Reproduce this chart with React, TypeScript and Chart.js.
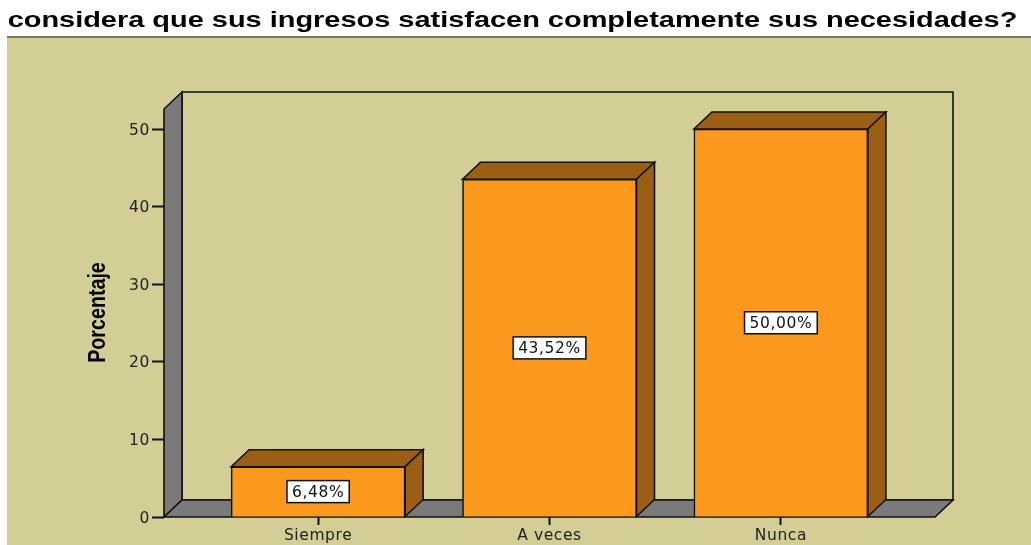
import React, { useEffect, useRef } from "react";
import { Chart, registerables } from "chart.js";

Chart.register(...registerables);

const chartTitle = "considera que sus ingresos satisfacen completamente sus necesidades?";
const yAxisTitle = "Porcentaje";
const categories = ["Siempre", "A veces", "Nunca"];
const percentages = [6.48, 43.52, 50.0];

const BG = "#D3CD96";
const BAR = "#FB981E";
const BAR_DARK = "#9A5F14";
const WALL = "#7A7A7A";
const INK = "#111111";
const DX = 18;
const DY = 17;
const BODY_SPACING = "0.6px";

function poly(ctx: CanvasRenderingContext2D, pts: number[][], fill: string | null, lw = 1.6) {
  ctx.beginPath();
  pts.forEach((p, i) => (i ? ctx.lineTo(p[0], p[1]) : ctx.moveTo(p[0], p[1])));
  ctx.closePath();
  if (fill) {
    ctx.fillStyle = fill;
    ctx.fill();
  }
  ctx.strokeStyle = INK;
  ctx.lineWidth = lw;
  ctx.lineJoin = "miter";
  ctx.stroke();
}

const scenePlugin = {
  id: "scene",
  beforeDraw(chart: any) {
    const c = chart.ctx;
    const { width, height } = chart;
    if (!chart.$wrapped) {
      chart.$wrapped = true;
      // the reference's title is a horizontally stretched font
      const tb = chart.titleBlock;
      const origTitle = tb.draw.bind(tb);
      tb.draw = () => {
        const cx = (tb.left + tb.right) / 2;
        c.save();
        c.letterSpacing = "0px";
        c.translate(512.5, 0);
        c.scale(1.315, 1);
        c.translate(-cx, 0);
        origTitle();
        c.restore();
      };
      // and its y axis title a condensed one
      const ys = chart.scales.y;
      const origAxisTitle = ys.drawTitle.bind(ys);
      ys.drawTitle = (...args: any[]) => {
        const cy = (ys.top + ys.bottom) / 2;
        c.save();
        c.letterSpacing = "0px";
        c.translate(0, 312.5);
        c.scale(1, 0.82);
        c.translate(0, -cy);
        origAxisTitle(...args);
        c.restore();
      };
    }
    c.save();
    c.fillStyle = BG;
    c.fillRect(7, 36, width - 7, height - 36);
    c.fillStyle = "#77775F";
    c.fillRect(7, 36, width - 7, 2);
    c.restore();
    c.letterSpacing = BODY_SPACING;
  },
  beforeDatasetsDraw(chart: any) {
    const c = chart.ctx;
    const { left, right, top, bottom } = chart.chartArea;
    const wallTop = top - 20;
    c.save();
    // back wall
    poly(c, [[left + DX, wallTop - DY], [right + DX, wallTop - DY], [right + DX, bottom - DY], [left + DX, bottom - DY]], null);
    // left wall
    poly(c, [[left, wallTop], [left + DX, wallTop - DY], [left + DX, bottom - DY], [left, bottom]], WALL);
    // floor
    poly(c, [[left, bottom], [left + DX, bottom - DY], [right + DX, bottom - DY], [right, bottom]], WALL);
    // bar depth faces
    chart.getDatasetMeta(0).data.forEach((bar: any) => {
      const { x, y, base, width: w } = bar.getProps(["x", "y", "base", "width"], true);
      const l = x - w / 2;
      const r = x + w / 2;
      poly(c, [[l, y], [l + DX, y - DY], [r + DX, y - DY], [r, y]], BAR_DARK);
      poly(c, [[r, y], [r + DX, y - DY], [r + DX, base - DY], [r, base]], BAR_DARK);
    });
    c.restore();
  },
  afterDatasetsDraw(chart: any) {
    const c = chart.ctx;
    c.save();
    c.font = "15.5px 'DejaVu Sans'";
    c.textAlign = "center";
    c.textBaseline = "middle";
    chart.getDatasetMeta(0).data.forEach((bar: any, i: number) => {
      const { x, y, base } = bar.getProps(["x", "y", "base"], true);
      const cy = (y + base) / 2;
      const text = percentages[i].toFixed(2).replace(".", ",") + "%";
      const w = c.measureText(text).width + 10;
      const h = 22;
      c.fillStyle = "#FFFFFF";
      c.fillRect(x - w / 2, cy - h / 2, w, h);
      c.strokeStyle = INK;
      c.lineWidth = 1.5;
      c.strokeRect(x - w / 2, cy - h / 2, w, h);
      c.fillStyle = INK;
      c.fillText(text, x, cy + 1);
    });
    c.restore();
  },
};

export default function App() {
  const ref = useRef<HTMLCanvasElement>(null);
  useEffect(() => {
    const chart = new Chart(ref.current!, {
      type: "bar",
      plugins: [scenePlugin],
      data: {
        datasets: [
          {
            data: percentages.map((v, i) => ({ x: i, y: v })),
            backgroundColor: BAR,
            borderColor: INK,
            borderWidth: 1.6,
            barThickness: 174,
          },
        ],
      },
      options: {
        responsive: false,
        animation: false,
        layout: { padding: { right: 96, left: 0, top: 0, bottom: 0 } },
        plugins: {
          legend: { display: false },
          tooltip: { enabled: false },
          title: {
            display: true,
            text: chartTitle,
            color: "#000000",
            align: "center",
            font: { family: "'Liberation Sans'", size: 22, weight: "bold", lineHeight: 1.2 },
            padding: { top: 8, bottom: 94.6 },
          },
        },
        scales: {
          x: {
            type: "linear",
            offset: false,
            min: -0.666,
            max: 2.666,
            afterBuildTicks: (axis: any) => {
              axis.ticks = categories.map((_, i) => ({ value: i }));
            },
            afterFit: (axis: any) => {
              axis.height = 28;
            },
            grid: { display: true, offset: false, drawOnChartArea: false, drawTicks: true, tickLength: 8, tickWidth: 2, tickColor: INK },
            border: { display: false },
            ticks: {
              callback: (v: any) => categories[v],
              color: "#222222",
              padding: 2,
              maxRotation: 0,
              autoSkip: false,
              font: { family: "'DejaVu Sans'", size: 15.5 },
            },
          },
          y: {
            min: 0,
            max: 50,
            afterFit: (axis: any) => {
              axis.width = 164;
            },
            grid: { display: true, drawOnChartArea: false, drawTicks: true, tickLength: 12, tickWidth: 2, tickColor: INK },
            border: { display: false },
            ticks: {
              stepSize: 10,
              color: "#222222",
              padding: 2,
              labelOffset: 1.5,
              font: { family: "'DejaVu Sans'", size: 15.5 },
            },
            title: {
              display: true,
              text: yAxisTitle,
              color: "#000000",
              font: { family: "'Liberation Sans'", size: 24, weight: "bold" },
              padding: { top: 84, bottom: 0 },
            },
          },
        },
      },
    } as any);
    return () => chart.destroy();
  }, []);
  return (
    <div style={{ position: "fixed", left: 0, top: 0, width: 1031, height: 545 }}>
      <canvas ref={ref} width={1031} height={545} style={{ display: "block" }} />
    </div>
  );
}
